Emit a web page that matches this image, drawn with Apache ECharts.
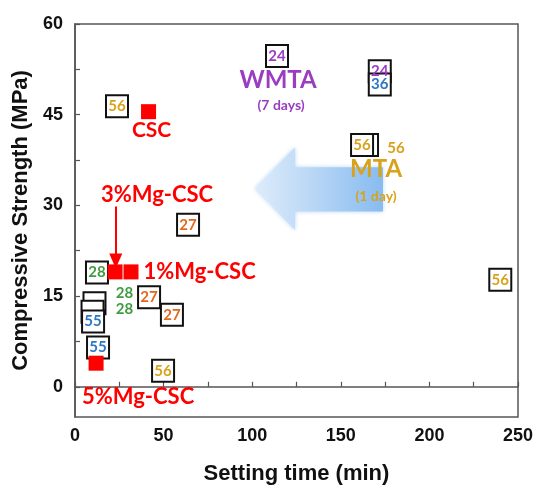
<!DOCTYPE html>
<html>
<head>
<meta charset="utf-8">
<script src="https://cdn.jsdelivr.net/npm/echarts@6/dist/echarts.min.js"></script>
<style>
  html, body { margin: 0; padding: 0; background: #fff; }
  #chart { width: 537px; height: 486px; }
</style>
</head>
<body>
<div id="chart"></div>
<script>
// Reference cements: setting time (min), compressive strength (MPa), curing age (days)
const refTime     = [23.7, 63.8, 41.8, 54.7, 12.4, 11.0, 9.9, 10.2, 13.0, 49.7, 114.0, 172.0, 172.0, 164.8, 162.0, 240.0];
const refStrength = [46.4, 26.8, 14.8, 11.9, 18.9, 13.8, 12.4, 10.8, 6.5, 2.65, 54.7, 52.2, 50.0, 40.0, 40.0, 17.7];
const refDays     = [56, 27, 27, 27, 28, 28, 28, 55, 55, 56, 24, 24, 36, 56, 56, 56];

// Calcium silicate cements with and without Mg
const cscNames    = ['CSC', '1%Mg-CSC', '3%Mg-CSC', '5%Mg-CSC'];
const cscTime     = [41.5, 31.6, 22.6, 11.9];
const cscStrength = [45.5, 19.0, 19.0, 3.9];

// Group captions and their curing-age notes
const groupNames     = ['WMTA', 'MTA'];
const groupTime      = [114.6, 169.9];
const groupLevel     = [50.7, 36.0];
const groupSub       = ['(7 days)', '(1 day)'];
const groupSubTime   = [116.3, 169.9];
const groupSubLevel  = [46.6, 31.5];

// Tick values
const xTicks      = [0, 25, 50, 75, 100, 125, 150, 175, 200, 225, 250];
const xLabels     = [0, 50, 100, 150, 200, 250];
const yTicks      = [0, 7.5, 15, 22.5, 30, 37.5, 45, 52.5, 60];
const yLabels     = [0, 15, 30, 45, 60];

// Trend arrow (tip, head base, tail) in data units
const arrowTime     = [101.6, 124.2, 173.8];
const arrowHead     = [39.6, 25.9];
const arrowShaft    = [36.3, 29.0];
const arrowLevel    = 32.8;

// Pointer from the 3%Mg-CSC caption down to its mark
const pointerTime   = 23.0;
const pointerLevels = [29.8, 20.8];

const dayColor = { 24: '#9A3DC2', 27: '#E2691C', 28: '#3F9B3F', 36: '#2D78C2', 55: '#2D78C2', 56: '#D9A21B' };
const RED = '#FF0000';
const ANNOT_FONT = 'Lato';

// labels drawn beside a box that is hidden by the box above it
const besideLabel = { 5: [30, -10], 6: [32, -3], 13: [29, 3] };

const refData = refTime.map((t, i) => {
  const lab = { color: dayColor[refDays[i]] };
  if (besideLabel[i]) { lab.offset = besideLabel[i]; }
  return { value: [t, refStrength[i], refDays[i]], label: lab };
});

const cscLabelStyle = [
  { position: 'inside', offset: [3, 19], fontSize: 21 },
  { position: 'right', distance: 5 },
  { position: 'inside', offset: [42, -77] },
  { position: 'inside', offset: [42, 34] }
];
const cscData = cscNames.map((n, i) => ({
  name: n,
  value: [cscTime[i], cscStrength[i]],
  label: cscLabelStyle[i]
}));

// caption rows: [time, level, group index, is note]
const groupColor = ['#9A3DC2', '#D9A21B'];
const captionRows = [];
groupNames.forEach((n, i) => {
  captionRows.push({ text: n, value: [groupTime[i], groupLevel[i], i, 0] });
  captionRows.push({ text: groupSub[i], value: [groupSubTime[i], groupSubLevel[i], i, 1] });
});

const chart = echarts.init(document.getElementById('chart'), null, { renderer: 'canvas' });

const axisColor = '#555';
const noStroke = { textBorderWidth: 0, textBorderColor: 'transparent' };
chart.setOption({
  animation: false,
  backgroundColor: '#fff',
  grid: {
    left: 75, right: 19, top: 24, bottom: 69, outerBoundsMode: 'none', containLabel: false,
    show: true, borderColor: axisColor, borderWidth: 1.5, backgroundColor: 'transparent'
  },
  xAxis: {
    type: 'value', min: 0, max: 250, interval: 25,
    name: 'Setting time (min)', nameLocation: 'middle', nameGap: 46,
    nameTextStyle: { fontFamily: 'Liberation Sans', fontWeight: 'bold', fontSize: 22, color: '#111' },
    axisLine: { show: true, lineStyle: { color: axisColor, width: 1.5 } },
    axisTick: { show: true, inside: true, length: 5, lineStyle: { color: axisColor, width: 1.2 }, customValues: xTicks },
    axisLabel: { margin: 10, fontFamily: 'Liberation Sans', fontWeight: 'bold', fontSize: 18, color: '#111', customValues: xLabels },
    splitLine: { show: false }
  },
  yAxis: {
    type: 'value', min: -5, max: 60,
    name: 'Compressive Strength (MPa)', nameLocation: 'middle', nameGap: 42,
    nameTextStyle: { fontFamily: 'Liberation Sans', fontWeight: 'bold', fontSize: 22, color: '#111' },
    axisLine: { show: true, lineStyle: { color: axisColor, width: 1.5 } },
    axisTick: { show: true, inside: true, length: 5, lineStyle: { color: axisColor, width: 1.2 }, customValues: yTicks },
    axisLabel: { margin: 12, fontFamily: 'Liberation Sans', fontWeight: 'bold', fontSize: 18, color: '#111', customValues: yLabels },
    splitLine: { show: false }
  },
  series: [
    {
      // broad left-pointing trend arrow
      type: 'custom',
      z: 1,
      silent: true,
      data: [[arrowTime[0], arrowLevel, arrowTime[1], arrowHead[0], arrowHead[1], arrowTime[2], arrowShaft[0], arrowShaft[1]]],
      renderItem: function (params, api) {
        const tip = api.coord([api.value(0), api.value(1)]);
        const hTop = api.coord([api.value(2), api.value(3)]);
        const hBot = api.coord([api.value(2), api.value(4)]);
        const sTopIn = api.coord([api.value(2), api.value(6)]);
        const sTopOut = api.coord([api.value(5), api.value(6)]);
        const sBotOut = api.coord([api.value(5), api.value(7)]);
        const sBotIn = api.coord([api.value(2), api.value(7)]);
        return {
          type: 'polygon',
          shape: { points: [tip, hTop, sTopIn, sTopOut, sBotOut, sBotIn, hBot] },
          style: {
            fill: new echarts.graphic.LinearGradient(0, 0, 1, 0, [
              { offset: 0, color: 'rgba(224,237,251,0.95)' },
              { offset: 0.5, color: 'rgba(180,212,245,0.95)' },
              { offset: 1, color: 'rgba(132,186,240,0.95)' }
            ]),
            shadowBlur: 4,
            shadowColor: 'rgba(160,200,240,0.8)'
          }
        };
      }
    },
    {
      type: 'scatter',
      z: 3,
      symbol: 'rect',
      symbolSize: 22,
      itemStyle: { color: '#fff', borderColor: '#111', borderWidth: 2, opacity: 1 },
      label: Object.assign({
        show: true, position: 'inside',
        formatter: p => String(p.value[2]),
        fontFamily: ANNOT_FONT, fontWeight: 'bold', fontSize: 15
      }, noStroke),
      emphasis: { disabled: true },
      data: refData
    },
    {
      type: 'scatter',
      z: 4,
      symbol: 'rect',
      symbolSize: 15,
      itemStyle: { color: RED, opacity: 1 },
      label: Object.assign({
        show: true, formatter: p => p.name,
        fontFamily: ANNOT_FONT, fontWeight: 'bold', fontSize: 22, color: RED
      }, noStroke),
      emphasis: { disabled: true },
      data: cscData,
      markLine: {
        silent: true,
        animation: false,
        symbolSize: [13, 15],
        label: { show: false },
        lineStyle: { color: RED, width: 2, type: 'solid' },
        data: [[
          { coord: [pointerTime, pointerLevels[0]], symbol: 'none' },
          { coord: [pointerTime, pointerLevels[1]], symbol: 'triangle', symbolRotate: 180 }
        ]]
      }
    },
    {
      // group captions (WMTA / MTA) with their curing-age notes
      type: 'custom',
      z: 5,
      silent: true,
      data: captionRows,
      renderItem: function (params, api) {
        const p = api.coord([api.value(0), api.value(1)]);
        const row = captionRows[params.dataIndex];
        const isNote = api.value(3) === 1;
        return {
          type: 'text',
          x: p[0],
          y: p[1],
          style: {
            text: row.text,
            fill: groupColor[api.value(2)],
            font: 'bold ' + (isNote ? 14 : 24) + 'px ' + ANNOT_FONT,
            align: 'center',
            verticalAlign: 'middle'
          }
        };
      }
    }
  ]
});
</script>
</body>
</html>
